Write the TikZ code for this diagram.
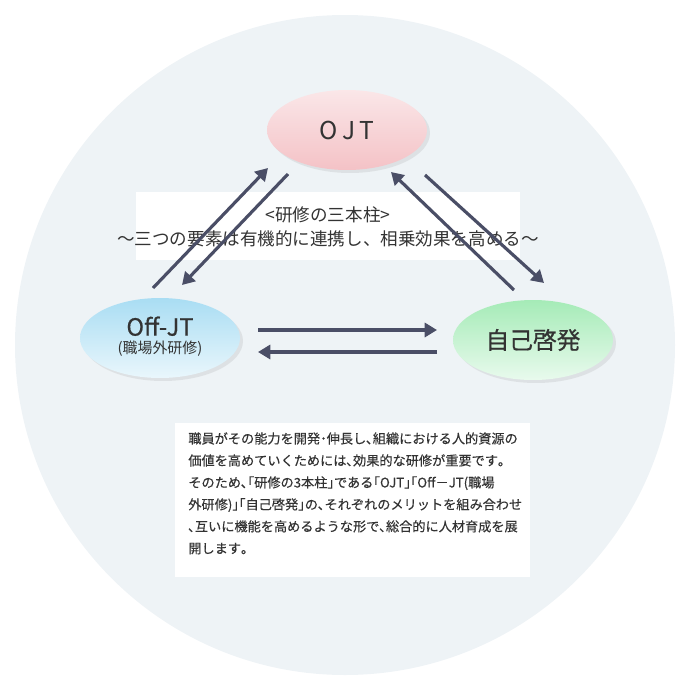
\documentclass[tikz,border=0pt]{standalone}
\usepackage{fontspec}
\setmainfont{Noto Sans CJK JP}
\usetikzlibrary{arrows.meta,shadows,shapes.geometric}
\definecolor{bgcircle}{HTML}{EEF3F6}
\definecolor{arrowcol}{HTML}{4A4E66}
\definecolor{textcol}{HTML}{333333}
\definecolor{skyblue}{HTML}{A9DDF3}
\definecolor{mint}{HTML}{A5EBB7}
\definecolor{rose}{HTML}{F4C2C6}
\tikzset{
  pillar/.style={ellipse, minimum width=3.2cm, minimum height=1.6cm, inner sep=0pt,
    text=textcol, drop shadow={opacity=0.15, shadow xshift=0.06cm, shadow yshift=-0.06cm}},
  link/.style={draw=arrowcol, line width=1.8pt, -{Triangle[length=7pt,width=8pt]}}
}
\begin{document}
\begin{tikzpicture}[x=0.02cm,y=-0.02cm]
  \useasboundingbox (0,0) rectangle (690,690);
  % background
  \fill[bgcircle] (345,345) circle (330);
  \fill[white] (136,192) rectangle (520,260);
  % pillars
  \node[pillar, top color=rose!40, bottom color=rose] (ojt) at (347,130) {\fontsize{14}{16}\selectfont O\,J\,T};
  \node[pillar, top color=skyblue, bottom color=skyblue!25] (offjt) at (160,338)
    {\begin{tabular}{c}\fontsize{13.5}{15}\selectfont\addfontfeature{FakeBold=0.6}Off-JT\\[-2pt]\fontsize{8.5}{10}\selectfont (職場外研修)\end{tabular}};
  \node[pillar, top color=mint, bottom color=mint!25] (self) at (533,340) {\fontsize{13.5}{15}\selectfont\addfontfeature{FakeBold=0.6}自己啓発};
  % title band
  \node[text=textcol, align=center, font=\fontsize{10}{14}\selectfont] (title) at (328,227)
    {<研修の三本柱>\\～三つの要素は有機的に連携し、相乗効果を高める～};
  % connectors
  \coordinate (a1) at (153,288); \coordinate (a2) at (268,168);
  \coordinate (b1) at (288,174); \coordinate (b2) at (182,285);
  \coordinate (c1) at (514,290); \coordinate (c2) at (391,172);
  \coordinate (d1) at (425,175); \coordinate (d2) at (544,283);
  \coordinate (e1) at (258,330); \coordinate (e2) at (437,330);
  \coordinate (f1) at (437,352); \coordinate (f2) at (258,352);
  \draw[link] (a1) -- (a2);
  \draw[link] (b1) -- (b2);
  \draw[link] (c1) -- (c2);
  \draw[link] (d1) -- (d2);
  \draw[link] (e1) -- (e2);
  \draw[link] (f1) -- (f2);
  % explanation
  \fill[white] (175,423) rectangle (530,577);
  \node[anchor=north west, text=textcol, align=left, inner sep=0pt, font=\fontsize{7.5}{12.5}\selectfont\addfontfeature{FakeBold=0.3}] (note) at (188,432)
    {職員がその能力を開発･伸長し､組織における人的資源の\\
     価値を高めていくためには､効果的な研修が重要です｡\\
     そのため､｢研修の3本柱｣である｢OJT｣｢Off－JT(職場\\
     外研修)｣｢自己啓発｣の､それぞれのメリットを組み合わせ\\
     ､互いに機能を高めるような形で､総合的に人材育成を展\\
     開します｡};
\end{tikzpicture}
\end{document}
